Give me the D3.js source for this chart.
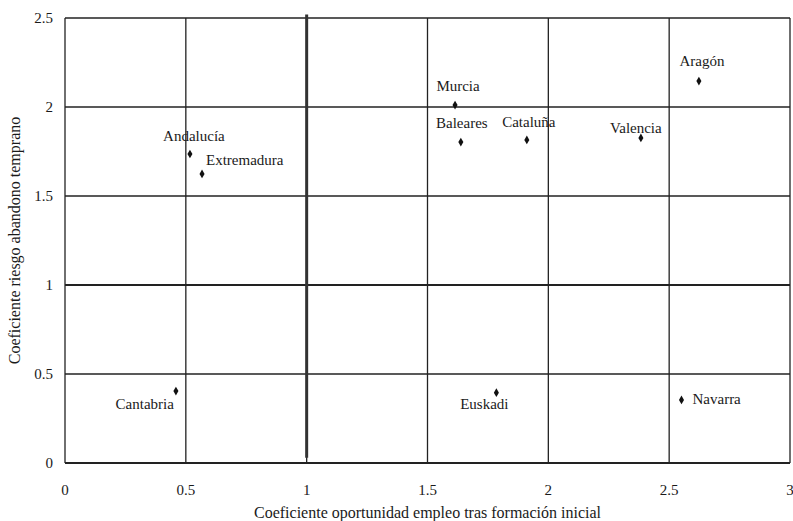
<!DOCTYPE html>
<html>
<head>
<meta charset="utf-8">
<script src="https://cdn.jsdelivr.net/npm/d3@7"></script>
</head>
<body style="margin:0">
<svg id="chart" width="793" height="521"></svg>
<script>
// data
const regions = ['Andalucía', 'Extremadura', 'Murcia', 'Baleares', 'Cataluña', 'Valencia', 'Aragón', 'Cantabria', 'Euskadi', 'Navarra'];
const oportunidad = [0.517, 0.567, 1.614, 1.638, 1.911, 2.383, 2.623, 0.459, 1.785, 2.551];
const riesgo = [1.736, 1.624, 2.011, 1.803, 1.815, 1.826, 2.146, 0.404, 0.395, 0.354];
const xTicks = [0, 0.5, 1, 1.5, 2, 2.5, 3];
const yTicks = [0, 0.5, 1, 1.5, 2, 2.5];

// where each label sits relative to its point
const labelPos = {
  'Andalucía':   { anchor: 'middle', dx: 4,   dy: -13 },
  'Extremadura': { anchor: 'start',  dx: 4,   dy: -9 },
  'Murcia':      { anchor: 'middle', dx: 3,   dy: -14 },
  'Baleares':    { anchor: 'middle', dx: 1,   dy: -14 },
  'Cataluña':    { anchor: 'middle', dx: 2,   dy: -13 },
  'Valencia':    { anchor: 'middle', dx: -5,  dy: -5 },
  'Aragón':      { anchor: 'middle', dx: 3,   dy: -15 },
  'Cantabria':   { anchor: 'end',    dx: -2,  dy: 18 },
  'Euskadi':     { anchor: 'middle', dx: -12, dy: 16 },
  'Navarra':     { anchor: 'start',  dx: 11,  dy: 4 }
};

const data = regions.map((r, i) => ({ name: r, x: oportunidad[i], y: riesgo[i] }));

const margin = { top: 18, right: 3, bottom: 58, left: 65 };
const width = 793 - margin.left - margin.right;
const height = 521 - margin.top - margin.bottom;

const svg = d3.select('#chart')
  .append('g')
  .attr('transform', `translate(${margin.left}, ${margin.top})`);

const xScale = d3.scaleLinear().domain([0, 3]).range([0, width]);
const yScale = d3.scaleLinear().domain([0, 2.5]).range([height, 0]);

function label(sel, size) {
  return sel.attr('font-family', 'Liberation Serif')
    .style('font-family', 'Liberation Serif')
    .attr('font-size', size)
    .attr('fill', '#1a1a1a');
}

// grid lines
svg.selectAll('.vgrid')
  .data(xTicks)
  .enter()
  .append('line')
  .attr('x1', d => xScale(d))
  .attr('x2', d => xScale(d))
  .attr('y1', 0)
  .attr('y2', height)
  .attr('stroke', '#222')
  .attr('stroke-width', 1.3);

svg.selectAll('.hgrid')
  .data(yTicks)
  .enter()
  .append('line')
  .attr('x1', 0)
  .attr('x2', width)
  .attr('y1', d => yScale(d))
  .attr('y2', d => yScale(d))
  .attr('stroke', '#222')
  .attr('stroke-width', d => (d === 1 || d === 0) ? 2 : 1.3);

// thick reference line at x = 1
svg.append('line')
  .attr('x1', xScale(1))
  .attr('x2', xScale(1))
  .attr('y1', yScale(2.52))
  .attr('y2', yScale(0.03))
  .attr('stroke', '#333')
  .attr('stroke-width', 3);

// x axis tick labels
svg.selectAll('.xlab')
  .data(xTicks)
  .enter()
  .append('text')
  .attr('x', d => xScale(d))
  .attr('y', height + 32)
  .attr('text-anchor', 'middle')
  .call(label, 15)
  .text(d => d);

// y axis tick labels
svg.selectAll('.ylab')
  .data(yTicks)
  .enter()
  .append('text')
  .attr('x', -12)
  .attr('y', d => yScale(d) + 5)
  .attr('text-anchor', 'end')
  .call(label, 15)
  .text(d => d);

// axis titles
svg.append('text')
  .attr('x', width / 2)
  .attr('y', height + 55)
  .attr('text-anchor', 'middle')
  .call(label, 16)
  .text('Coeficiente oportunidad empleo tras formación inicial');

svg.append('text')
  .attr('transform', 'rotate(-90)')
  .attr('x', -height / 2)
  .attr('y', -margin.left + 20)
  .attr('text-anchor', 'middle')
  .call(label, 16)
  .text('Coeficiente riesgo abandono temprano');

// points
svg.selectAll('.pt')
  .data(data)
  .enter()
  .append('path')
  .attr('d', d3.symbol().type(d3.symbolDiamond).size(22))
  .attr('transform', d => `translate(${xScale(d.x)}, ${yScale(d.y)})`)
  .attr('fill', '#111');

// labels
svg.selectAll('.lbl')
  .data(data)
  .enter()
  .append('text')
  .attr('x', d => xScale(d.x) + labelPos[d.name].dx)
  .attr('y', d => yScale(d.y) + labelPos[d.name].dy)
  .attr('text-anchor', d => labelPos[d.name].anchor)
  .call(label, 15)
  .text(d => d.name);
</script>
</body>
</html>
